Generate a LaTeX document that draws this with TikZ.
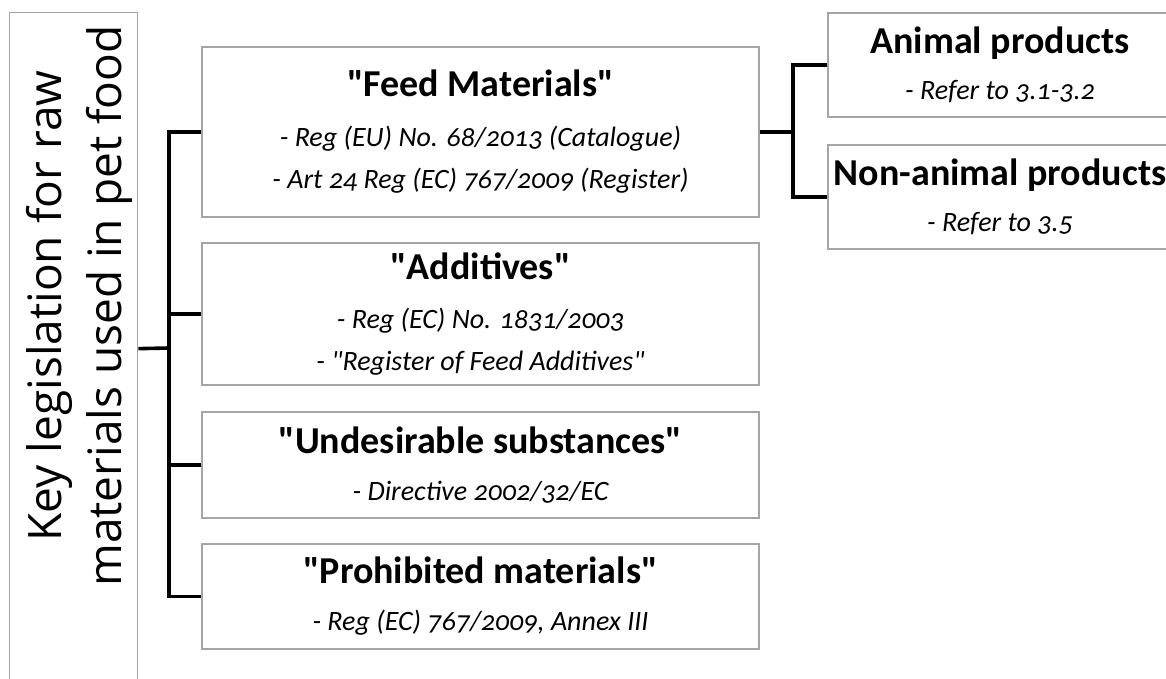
\documentclass[tikz,border=0pt]{standalone}
\usepackage{fontspec}
\setmainfont{Carlito}[Numbers=OldStyle,Ligatures=TeXOff]
\newfontfamily\sidefont{Open Sans}
\usetikzlibrary{positioning}
\definecolor{boxgray}{RGB}{165,165,165}
\newcommand\qt{\symbol{34}}

\begin{document}
\begin{tikzpicture}[x=1pt,y=-1pt,
    box/.style={draw=boxgray,line width=1.3pt,inner sep=0pt,align=center,
      font=\fontsize{28}{42}\selectfont\itshape},
    link/.style={line width=3.6pt}]
  \useasboundingbox (0,0) rectangle (1166,679);
  \clip (0,0) rectangle (1166,679);
  % left column
  \node[box,anchor=north west,minimum width=128,minimum height=672] (root) at (9,12) {};
  \node[rotate=90,align=center,font=\sidefont\fontsize{46}{60}\selectfont] (roottext) at (79,306)
    {Key legislation for raw\\materials used in pet food};
  % middle column
  \node[box,minimum width=557,minimum height=170] (feed) at (480.5,132)
    {{\fontsize{38}{42}\selectfont\bfseries\upshape \qt Feed Materials\qt}\\[8pt]
     - Reg (EU) No. 68/2013 (Catalogue)\\
     - Art 24 Reg (EC) 767/2009 (Register)};
  \node[box,minimum width=557,minimum height=142] (additives) at (480.5,314)
    {{\fontsize{38}{42}\selectfont\bfseries\upshape \qt Additives\qt}\\[7pt]
     - Reg (EC) No. 1831/2003\\
     - \qt Register of Feed Additives\qt};
  \node[box,minimum width=557,minimum height=106] (undesirable) at (480.5,465)
    {{\fontsize{38}{42}\selectfont\bfseries\upshape \qt Undesirable substances\qt}\\[5pt]
     - Directive 2002/32/EC};
  \node[box,minimum width=557,minimum height=105] (prohibited) at (480.5,596.5)
    {{\fontsize{38}{42}\selectfont\bfseries\upshape \qt Prohibited materials\qt}\\[5pt]
     - Reg (EC) 767/2009, Annex III};
  % right column
  \node[box,minimum width=344,minimum height=104] (animal) at (1000,65)
    {{\fontsize{38}{42}\selectfont\bfseries\upshape Animal products}\\[4pt]
     - Refer to 3.1-3.2};
  \node[box,minimum width=344,minimum height=104] (nonanimal) at (1000,197)
    {{\fontsize{38}{42}\selectfont\bfseries\upshape Non-animal products}\\[4pt]
     - Refer to 3.5};
  % brackets
  \coordinate (hub) at (169,348);
  \coordinate (rhub) at (793,132);
  \draw[link] (root.east) -- (hub);
  \draw[link] (feed.west) -| (hub) |- (prohibited.west);
  \draw[link] (hub |- additives.west) -- (additives.west);
  \draw[link] (hub |- undesirable.west) -- (undesirable.west);
  \draw[link] (feed.east) -- (rhub);
  \draw[link] (animal.west) -| (rhub) |- (nonanimal.west);
\end{tikzpicture}
\end{document}
